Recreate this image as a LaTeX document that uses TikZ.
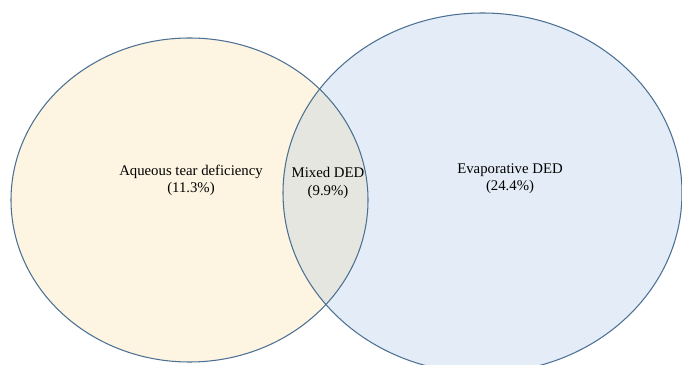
\documentclass[tikz,border=0pt]{standalone}
\usepackage{fontspec}
\setmainfont{Liberation Serif}
\usepackage{xcolor}
\definecolor{ringblue}{HTML}{4C7093}
\definecolor{aqfill}{HTML}{FDF4E1}
\definecolor{evfill}{HTML}{E4EDF7}
\definecolor{mixfill}{HTML}{E5E6E0}

\begin{document}
\begin{tikzpicture}[
  x=0.025cm, y=-0.025cm,
  ring/.style = {draw=ringblue, line width=0.75pt},
  lbl/.style  = {font=\fontsize{10.5}{12.2}\selectfont, align=center, inner sep=0pt},
]
\useasboundingbox (0,0) rectangle (682,365);

% ── Centres of the two sets ──────────────────────────────────────────────────
\coordinate (aq) at (189.5,200);
\coordinate (ev) at (482.5,193);

% ── Fills ────────────────────────────────────────────────────────────────────
\fill[aqfill] (aq) ellipse [x radius=178.5, y radius=162];
\fill[evfill] (ev) ellipse [x radius=199.5, y radius=180];
\begin{scope}
  \clip (aq) ellipse [x radius=178.5, y radius=162];
  \fill[mixfill] (ev) ellipse [x radius=199.5, y radius=180];
\end{scope}

% ── Outlines ─────────────────────────────────────────────────────────────────
\draw[ring] (aq) ellipse [x radius=178.5, y radius=162];
\draw[ring] (ev) ellipse [x radius=199.5, y radius=180];

% ── Labels ───────────────────────────────────────────────────────────────────
\node[lbl] (aqlbl)  at (191,180) {Aqueous tear deficiency\\(11.3\%)};
\node[lbl] (mixlbl) at (328,183) {Mixed DED\\(9.9\%)};
\node[lbl] (evlbl)  at (510,179) {Evaporative DED\\(24.4\%)};

\end{tikzpicture}
\end{document}
